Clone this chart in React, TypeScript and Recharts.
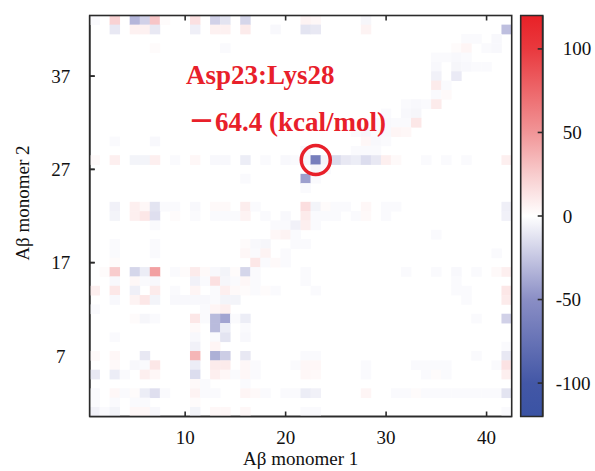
import React from 'react';
import {
  ScatterChart,
  Scatter,
  XAxis,
  YAxis,
  ReferenceDot,
  ReferenceLine,
  BarChart,
  Bar,
} from 'recharts';

const W = 595;
const H = 471;
const SERIF = '"Liberation Serif", "Times New Roman", "Noto Sans CJK JP", serif';
const RED = '#e8202a';
const INK = '#111';
const FRAME = '#2b2b2b';

const xTicks = [10, 20, 30, 40];
const yTicks = [7, 17, 27, 37];
const barTicks = [-100, -50, 0, 50, 100];
const xDomain: [number, number] = [0.5, 42.5];
const yDomain: [number, number] = [0.5, 43.5];
const vDomain: [number, number] = [-120, 120];

// colour map: kcal/mol -> colour
const palette: [number, string][] = [
  [-120, '#3a53a4'],
  [-100, '#4357a6'],
  [-50, '#8a8ec5'],
  [-25, '#c5c6e2'],
  [0, '#ffffff'],
  [25, '#f8cccd'],
  [50, '#f19597'],
  [100, '#e9393e'],
  [120, '#e82127'],
];

// [residue of monomer 1, residue of monomer 2, interaction energy kcal/mol]
const energies: [number, number, number][] = [
  [1, 43, -2], [3, 43, 22], [5, 43, -32], [6, 43, -20], [7, 43, 28], [8, 43, 2], [11, 43, 15],
  [13, 43, -20], [14, 43, -12], [16, 43, -18], [22, 43, 6], [23, 43, 4], [28, 43, -4],
  [3, 42, -10], [5, 42, 7], [6, 42, 7], [7, 42, -10], [11, 42, -7], [13, 42, 7], [14, 42, 7],
  [16, 42, 10], [19, 42, -3], [22, 42, -12], [23, 42, -10], [28, 42, 6], [42, 42, -28],
  [38, 41, -2], [39, 41, -2], [41, 41, -3],
  [7, 40, 2], [14, 40, -2], [37, 40, 2], [38, 40, 5], [40, 40, -2], [41, 40, -3],
  [35, 39, -2], [36, 39, -2], [37, 39, -3], [38, 39, -2],
  [35, 38, -3], [37, 38, -4], [38, 38, -3], [39, 38, -2], [40, 38, -2],
  [35, 37, -6], [37, 37, -9],
  [35, 36, 10], [36, 36, -2],
  [35, 35, -2], [36, 35, 3],
  [32, 34, -2], [33, 34, -3], [34, 34, -2], [35, 34, 10],
  [30, 33, -2], [32, 33, -3], [33, 33, -4],
  [29, 32, -2], [30, 32, -3], [31, 32, -2], [32, 32, -2], [33, 32, 12],
  [27, 31, -2], [28, 31, -4], [29, 31, -2], [30, 31, -3], [31, 31, 5], [32, 31, 4],
  [3, 30, -2], [7, 30, -3], [28, 30, 4], [29, 30, -3], [30, 30, -2],
  [22, 29, -3], [27, 29, -2], [28, 29, -2], [29, 29, -2],
  [1, 28, 3], [3, 28, 8], [5, 28, -5], [6, 28, -5], [7, 28, 8], [9, 28, -2], [11, 28, 4],
  [13, 28, -3], [14, 28, -3], [16, 28, -8], [18, 28, -2], [20, 28, -3], [21, 28, -2],
  [22, 28, -4], [23, 28, -64.4], [24, 28, -5], [25, 28, -16], [26, 28, -10], [27, 28, -8],
  [28, 28, -15], [29, 28, -10], [30, 28, 8], [31, 28, 3], [34, 28, -2], [36, 28, -2],
  [38, 28, -2], [42, 28, 8],
  [23, 27, -4], [24, 27, -2],
  [16, 26, -2], [22, 26, -42], [23, 26, -2],
  [22, 25, -2],
  [3, 23, -6], [5, 23, 8], [6, 23, 4], [7, 23, -12], [8, 23, -2], [9, 23, -2], [11, 23, -3],
  [13, 23, 3], [14, 23, 3], [16, 23, 9], [17, 23, -2], [22, 23, 16], [23, 23, -5], [24, 23, 2],
  [25, 23, -2], [26, 23, -2], [28, 23, 4], [30, 23, -2], [31, 23, -2], [42, 23, -7],
  [3, 22, -5], [5, 22, 8], [6, 22, 12], [7, 22, -14], [9, 22, 2], [11, 22, -2], [13, 22, -2],
  [14, 22, -2], [15, 22, -2], [16, 22, 6], [18, 22, -2], [20, 22, -3], [22, 22, 10],
  [23, 22, -2], [24, 22, -2], [25, 22, -2], [27, 22, -2], [28, 22, 3], [30, 22, -2], [42, 22, -6],
  [7, 21, -2], [19, 21, -2], [20, 21, -2], [21, 21, -6], [22, 21, 8], [23, 21, -2],
  [19, 20, 4], [20, 20, 6], [21, 20, -2], [35, 20, -2],
  [3, 19, -2], [7, 19, -2], [16, 19, 2], [17, 19, -3], [18, 19, -4], [21, 19, -2], [22, 19, -2],
  [3, 18, -2], [7, 18, -2], [16, 18, 4], [17, 18, -2], [18, 18, 6], [20, 18, -2], [41, 18, -2],
  [3, 17, 2], [17, 17, 12], [18, 17, -2], [19, 17, 3], [20, 17, -2],
  [2, 16, 2], [3, 16, 25], [5, 16, -18], [6, 16, -8], [7, 16, 45], [9, 16, -2], [10, 16, 2],
  [11, 16, 10], [12, 16, 3], [13, 16, -3], [14, 16, -5], [15, 16, 2], [16, 16, -18],
  [17, 16, -2], [22, 16, -2], [32, 16, -2], [35, 16, -2], [37, 16, -3], [39, 16, -2],
  [41, 16, 3], [42, 16, 8],
  [3, 15, -3], [5, 15, 4], [6, 15, -2], [7, 15, -3], [11, 15, -6], [12, 15, -2], [13, 15, 15],
  [14, 15, -4], [15, 15, -2], [16, 15, 4], [17, 15, -2], [22, 15, -2], [37, 15, -2],
  [1, 14, 8], [3, 14, 12], [5, 14, -7], [7, 14, 10], [9, 14, -2], [11, 14, 5], [13, 14, -2],
  [14, 14, 8], [15, 14, 3], [16, 14, 2], [17, 14, -2], [18, 14, 2], [19, 14, -2], [23, 14, -2],
  [37, 14, -2], [38, 14, -2], [42, 14, 12],
  [3, 13, -3], [5, 13, 6], [6, 13, 12], [7, 13, -5], [9, 13, -3], [10, 13, -3], [11, 13, -3],
  [12, 13, -3], [13, 13, -2], [14, 13, -5], [15, 13, -5], [38, 13, -2], [42, 13, 10],
  [1, 12, -2], [12, 12, -2], [13, 12, 5], [14, 12, 8],
  [5, 11, 2], [6, 11, -4], [7, 11, -2], [11, 11, 12], [12, 11, -2], [13, 11, -30], [14, 11, -40],
  [15, 11, -2], [16, 11, -8], [39, 11, -2], [42, 11, -20],
  [11, 10, 3], [13, 10, -30], [14, 10, -8], [16, 10, -2],
  [3, 9, -2], [11, 9, -3], [13, 9, -2], [14, 9, -12], [16, 9, -3],
  [11, 8, -6], [13, 8, 5], [42, 8, -2],
  [1, 7, 3], [3, 7, 4], [6, 7, -10], [11, 7, 35], [13, 7, -35], [14, 7, -22], [16, 7, -10],
  [22, 7, -2], [23, 7, -2], [39, 7, -2], [42, 7, -10],
  [3, 6, 3], [5, 6, -3], [6, 6, -2], [7, 6, 12], [11, 6, -8], [13, 6, 10], [14, 6, 10],
  [16, 6, 4], [17, 6, -2], [21, 6, -2], [22, 6, 4], [23, 6, 4], [28, 6, -2], [33, 6, -2],
  [34, 6, -2], [35, 6, -2], [36, 6, -2], [41, 6, -2], [42, 6, 14],
  [1, 5, -10], [3, 5, -8], [4, 5, -2], [6, 5, 8], [7, 5, 4], [11, 5, -15], [13, 5, 8],
  [14, 5, 4], [15, 5, -2], [16, 5, 4], [17, 5, -2], [22, 5, 4], [23, 5, 3], [28, 5, -2],
  [34, 5, -2], [35, 5, 2], [36, 5, -2], [42, 5, 8],
  [11, 4, 3], [12, 4, -2], [16, 4, -2],
  [1, 3, -2], [3, 3, 4], [4, 3, -2], [5, 3, 2], [6, 3, -8], [7, 3, -14], [8, 3, -2], [11, 3, 6],
  [12, 3, -2], [13, 3, -2], [16, 3, 5], [17, 3, 3], [18, 3, -2], [20, 3, -2], [21, 3, -2],
  [22, 3, -8], [23, 3, -6], [28, 3, 5], [31, 3, -2], [32, 3, -2], [33, 3, 2], [34, 3, -2],
  [35, 3, -2], [36, 3, -2], [37, 3, -2], [38, 3, -2], [39, 3, -2], [40, 3, -2], [41, 3, -2],
  [42, 3, -12],
  [1, 2, -2], [3, 2, -2], [5, 2, -2], [6, 2, -2], [11, 2, 2],
  [1, 1, -6], [2, 1, -2], [3, 1, -5], [5, 1, 4], [6, 1, 4], [7, 1, -3], [11, 1, -5],
  [13, 1, 4], [14, 1, 4], [16, 1, 4], [22, 1, -2], [23, 1, -2], [42, 1, -2],
];

const highlight = { x: 23, y: 28, pair: 'Asp23:Lys28', energy: '－64.4 (kcal/mol)' };

// plot box (px) of the heatmap and the colour bar
const PLOT = { left: 89.7, top: 15.5, right: 511.7, bottom: 416.5 };
const CB = { left: 520.7, right: 542.7 };
const cellW = (PLOT.right - PLOT.left) / (xDomain[1] - xDomain[0]);
const cellH = (PLOT.bottom - PLOT.top) / (yDomain[1] - yDomain[0]);
const TICK_PX = 5;

const toRgb = (hex: string) => [1, 3, 5].map((i) => parseInt(hex.slice(i, i + 2), 16));

function colorFor(v: number) {
  const c = Math.max(vDomain[0], Math.min(vDomain[1], v));
  for (let i = 0; i < palette.length - 1; i++) {
    const [a, ca] = palette[i];
    const [b, cb] = palette[i + 1];
    if (c >= a && c <= b) {
      const t = (c - a) / (b - a);
      const A = toRgb(ca);
      const B = toRgb(cb);
      const m = A.map((x, k) => Math.round(x + (B[k] - x) * t));
      return `rgb(${m[0]},${m[1]},${m[2]})`;
    }
  }
  return '#fff';
}

const cells = energies.map(([x, y, v]) => ({ x, y, v }));

const HeatCell = (props: any) => {
  const { cx, cy, payload } = props;
  return (
    <rect
      x={cx - cellW / 2 - 0.2}
      y={cy - cellH / 2 - 0.2}
      width={cellW + 0.4}
      height={cellH + 0.4}
      fill={colorFor(payload.v)}
    />
  );
};

const ColorbarTick = (props: any) => {
  const { x, y, payload } = props;
  return (
    <text x={x + (payload.value < 0 ? 0 : 7)} y={y} dy={6.5} fontSize={19} fontFamily={SERIF} fill={INK}>
      {payload.value}
    </text>
  );
};

const tickFont = { fill: INK, fontSize: 19, fontFamily: SERIF };
const frameLine = { stroke: FRAME, strokeWidth: 1.6 };
const annotation = {
  position: 'center' as const,
  textAnchor: 'start',
  fill: RED,
  fontSize: 27,
  fontWeight: 'bold',
  fontFamily: SERIF,
};

export default function App() {
  return (
    <div style={{ position: 'fixed', left: 0, top: 0, width: W, height: H, background: '#fff' }}>
      <svg width={W} height={H} style={{ position: 'absolute', left: 0, top: 0 }}>
        <text x={(PLOT.left + PLOT.right) / 2} y={465} textAnchor="middle" fontSize={19} fontFamily={SERIF} fill={INK}>
          Aβ monomer 1
        </text>
        <text
          transform={`translate(29,${(PLOT.top + PLOT.bottom) / 2 - 13}) rotate(-90)`}
          textAnchor="middle"
          fontSize={19}
          fontFamily={SERIF}
          fill={INK}
        >
          Aβ monomer 2
        </text>
      </svg>

      <div style={{ position: 'absolute', left: 0, top: 0 }}>
        <BarChart
          width={W}
          height={H}
          data={[{ name: 'scale', range: vDomain }]}
          margin={{ top: PLOT.top, right: W - CB.right - 60, bottom: H - PLOT.bottom, left: CB.left }}
          barCategoryGap={0}
        >
          <defs>
            <linearGradient id="cbGrad" x1="0" y1="0" x2="0" y2="1">
              {[...palette].reverse().map(([v, c]) => (
                <stop key={v} offset={(vDomain[1] - v) / (vDomain[1] - vDomain[0])} stopColor={c} />
              ))}
            </linearGradient>
          </defs>
          <XAxis dataKey="name" hide />
          <YAxis
            yAxisId="cbL"
            type="number"
            domain={vDomain}
            ticks={barTicks}
            width={0}
            tickSize={-5}
            tick={false}
            stroke={FRAME}
            axisLine={frameLine}
            tickLine={frameLine}
          />
          <YAxis
            yAxisId="cbR"
            orientation="right"
            type="number"
            domain={vDomain}
            ticks={barTicks}
            width={60}
            tickSize={-5}
            tickMargin={18}
            stroke={FRAME}
            axisLine={frameLine}
            tickLine={frameLine}
            tick={<ColorbarTick />}
          />
          <Bar
            yAxisId="cbR"
            dataKey="range"
            fill="url(#cbGrad)"
            stroke={FRAME}
            strokeWidth={1.6}
            isAnimationActive={false}
          />
        </BarChart>
      </div>

      <div style={{ position: 'absolute', left: 0, top: 0 }}>
        <ScatterChart
          width={W}
          height={H}
          margin={{ top: PLOT.top, right: W - PLOT.right, bottom: 0, left: 0 }}
        >
          <XAxis
            xAxisId="b"
            type="number"
            dataKey="x"
            domain={xDomain}
            ticks={xTicks}
            height={H - PLOT.bottom}
            tickSize={-5}
            tickMargin={19}
            stroke={FRAME}
            strokeWidth={1.6}
            tick={tickFont}
          />
          <XAxis
            xAxisId="t"
            orientation="top"
            type="number"
            domain={xDomain}
            ticks={xTicks}
            height={0}
            tickSize={-5}
            tick={false}
            stroke={FRAME}
            strokeWidth={1.6}
          />
          <YAxis
            yAxisId="l"
            type="number"
            dataKey="y"
            domain={yDomain}
            ticks={yTicks}
            width={PLOT.left}
            tickSize={-5}
            tickMargin={34}
            stroke={FRAME}
            strokeWidth={1.6}
            tick={{ ...tickFont, textAnchor: 'middle' }}
          />
          <YAxis
            yAxisId="r"
            orientation="right"
            type="number"
            domain={yDomain}
            ticks={yTicks}
            width={0}
            tickSize={-5}
            tick={false}
            stroke={FRAME}
            strokeWidth={1.6}
          />
          <Scatter xAxisId="b" yAxisId="l" data={cells} shape={HeatCell} isAnimationActive={false} />
          {yTicks.map((y) => (
            <ReferenceLine
              key={`ly${y}`}
              xAxisId="b"
              yAxisId="l"
              segment={[{ x: xDomain[0], y }, { x: xDomain[0] + TICK_PX / cellW, y }]}
              stroke={FRAME}
              strokeWidth={1.6}
              ifOverflow="visible"
            />
          ))}
          {xTicks.map((x) => (
            <ReferenceLine
              key={`tx${x}`}
              xAxisId="b"
              yAxisId="l"
              segment={[{ x, y: yDomain[1] }, { x, y: yDomain[1] - TICK_PX / cellH }]}
              stroke={FRAME}
              strokeWidth={1.6}
              ifOverflow="visible"
            />
          ))}
          <ReferenceDot
            xAxisId="b"
            yAxisId="l"
            x={highlight.x}
            y={highlight.y}
            r={14.5}
            fill="none"
            stroke={RED}
            strokeWidth={3.5}
            label={{ ...annotation, value: highlight.pair, dx: 186 - 315.8, dy: 83 - 160 - 9 }}
          />
          <ReferenceDot
            xAxisId="b"
            yAxisId="l"
            x={highlight.x}
            y={highlight.y}
            r={0}
            fill="none"
            stroke="none"
            label={{ ...annotation, value: highlight.energy, dx: 188 - 315.8, dy: 130 - 160 - 9 }}
          />
        </ScatterChart>
      </div>

      {/* plot frame on top */}
      <svg width={W} height={H} style={{ position: 'absolute', left: 0, top: 0, pointerEvents: 'none' }}>
        <rect
          x={PLOT.left}
          y={PLOT.top}
          width={PLOT.right - PLOT.left}
          height={PLOT.bottom - PLOT.top}
          fill="none"
          stroke={FRAME}
          strokeWidth={1.6}
        />
      </svg>
    </div>
  );
}
